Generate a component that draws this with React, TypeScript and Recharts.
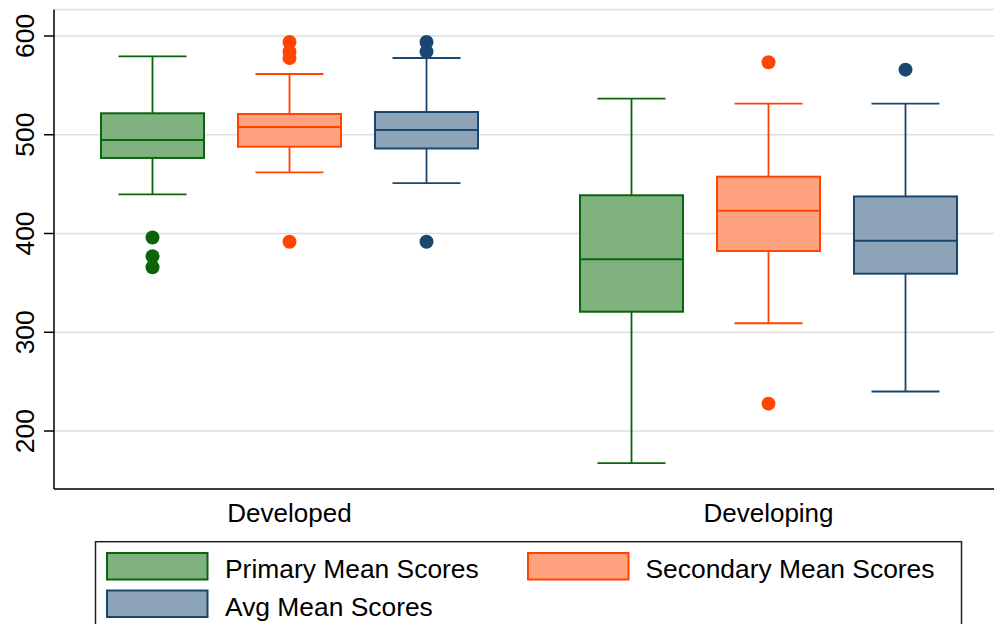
import React from 'react';
import { ComposedChart, Bar, XAxis, YAxis, CartesianGrid } from 'recharts';

// Categories
const groups = ['Developed', 'Developing'];

// Series
const seriesKeys = ['primary', 'secondary', 'avg'];
const seriesNames = ['Primary Mean Scores', 'Secondary Mean Scores', 'Avg Mean Scores'];
const strokeColors = ['#0a640a', '#ff4500', '#1a476f'];
const fillColors = ['#80b280', '#ffa280', '#8da3b7'];

// Box statistics, one value per category [Developed, Developing]
const primaryLow = [439.7, 167.6];
const primaryQ1 = [476.5, 320.8];
const primaryMedian = [494.7, 374.0];
const primaryQ3 = [521.7, 438.7];
const primaryHigh = [579.4, 536.5];
const primaryOutliers = [[396, 377, 365.8], []];

const secondaryLow = [461.9, 309.1];
const secondaryQ1 = [487.9, 382.3];
const secondaryMedian = [507.8, 423.1];
const secondaryQ3 = [521.0, 457.5];
const secondaryHigh = [561.5, 531.5];
const secondaryOutliers = [[593.9, 584.1, 577.7, 391.7], [573.4, 227.7]];

const avgLow = [451.0, 240.0];
const avgQ1 = [486.1, 359.3];
const avgMedian = [504.8, 392.7];
const avgQ3 = [523.0, 437.5];
const avgHigh = [577.7, 531.5];
const avgOutliers = [[593.9, 584.1, 391.7], [565.9]];

// Axis
const yTicks = [200, 300, 400, 500, 600];
const yDomain = [141.3, 626.8];

const stats = [
  { low: primaryLow, q1: primaryQ1, med: primaryMedian, q3: primaryQ3, high: primaryHigh, out: primaryOutliers },
  { low: secondaryLow, q1: secondaryQ1, med: secondaryMedian, q3: secondaryQ3, high: secondaryHigh, out: secondaryOutliers },
  { low: avgLow, q1: avgQ1, med: avgMedian, q3: avgQ3, high: avgHigh, out: avgOutliers },
];

const data = groups.map((g, gi) => {
  const row: any = { group: g };
  seriesKeys.forEach((k, si) => {
    const s = stats[si];
    row[k] = [s.q1[gi], s.q3[gi]];
    row[k + 'Stats'] = {
      low: s.low[gi],
      q1: s.q1[gi],
      med: s.med[gi],
      q3: s.q3[gi],
      high: s.high[gi],
      out: s.out[gi],
    };
  });
  return row;
});

const FONT = '"Liberation Sans", Arial, Helvetica, sans-serif';

const makeBoxShape = (si: number) => (props: any) => {
  const { x, y, width, height, payload } = props;
  const st = payload[seriesKeys[si] + 'Stats'];
  if (!st || height == null) return <g />;
  const ppu = height / (st.q3 - st.q1);
  const yOf = (v: number) => y + (st.q3 - v) * ppu;
  const cx = x + width / 2;
  const capW = width * 0.66;
  const stroke = strokeColors[si];
  const fill = fillColors[si];
  const yHigh = yOf(st.high);
  const yLow = yOf(st.low);
  const yMed = yOf(st.med);
  return (
    <g>
      <line x1={cx} x2={cx} y1={yHigh} y2={y} stroke={stroke} strokeWidth={1.8} />
      <line x1={cx} x2={cx} y1={y + height} y2={yLow} stroke={stroke} strokeWidth={1.8} />
      <line x1={cx - capW / 2} x2={cx + capW / 2} y1={yHigh} y2={yHigh} stroke={stroke} strokeWidth={1.8} />
      <line x1={cx - capW / 2} x2={cx + capW / 2} y1={yLow} y2={yLow} stroke={stroke} strokeWidth={1.8} />
      <rect x={x} y={y} width={width} height={height} fill={fill} stroke={stroke} strokeWidth={2} />
      <line x1={x} x2={x + width} y1={yMed} y2={yMed} stroke={stroke} strokeWidth={2} />
      {st.out.map((v: number, i: number) => (
        <circle key={i} cx={cx} cy={yOf(v)} r={7} fill={stroke} />
      ))}
    </g>
  );
};

const YTick = (props: any) => {
  const { x, y, payload } = props;
  const tx = x - 7.5;
  return (
    <text x={tx} y={y} transform={`rotate(-90, ${tx}, ${y})`} textAnchor="middle" fontSize={26.5} fontFamily={FONT} fill="#000">
      {payload.value}
    </text>
  );
};

const XTick = (props: any) => {
  const { x, y, payload } = props;
  return (
    <text x={x} y={y + 33} textAnchor="middle" fontSize={26} fontFamily={FONT} fill="#000">
      {payload.value}
    </text>
  );
};

const LegendBox = () => {
  const items = [
    { si: 0, sx: 107, sy: 553, tx: 225, ty: 578 },
    { si: 1, sx: 528, sy: 553, tx: 645.5, ty: 578 },
    { si: 2, sx: 107, sy: 590.5, tx: 225, ty: 615.5 },
  ];
  return (
    <svg width={994} height={624} style={{ position: 'absolute', left: 0, top: 0, pointerEvents: 'none' }}>
      <rect x={95.5} y={541.7} width={866} height={120} fill="#fff" stroke="#222" strokeWidth={1.5} />
      {items.map((it) => (
        <g key={it.si}>
          <rect x={it.sx} y={it.sy} width={100.5} height={26.5} fill={fillColors[it.si]} stroke={strokeColors[it.si]} strokeWidth={2} />
          <text x={it.tx} y={it.ty} fontSize={26.4} fontFamily={FONT} fill="#000">
            {seriesNames[it.si]}
          </text>
        </g>
      ))}
    </svg>
  );
};

export default function App() {
  return (
    <div
      style={{
        position: 'fixed',
        left: 0,
        top: 0,
        width: 994,
        height: 624,
        overflow: 'hidden',
        background: '#fff',
        fontFamily: FONT,
      }}
    >
      <ComposedChart
        width={1010}
        height={540}
        data={data}
        margin={{ top: 9.5, right: 2, left: 0, bottom: 0 }}
        barSize={103}
        barGap={34}
      >
        <CartesianGrid horizontal vertical={false} stroke="#dedede" strokeWidth={1.6} />
        <XAxis
          dataKey="group"
          height={51}
          tickLine={false}
          tickSize={0}
          tickMargin={0}
          axisLine={{ stroke: '#000', strokeWidth: 1.5 }}
          tick={<XTick />}
          padding={{ left: -4, right: 0 }}
          interval={0}
        />
        <XAxis
          xAxisId="top"
          dataKey="group"
          orientation="top"
          height={0}
          tick={false}
          tickLine={false}
          axisLine={{ stroke: '#000', strokeWidth: 1.5 }}
        />
        <YAxis
          width={54}
          domain={yDomain}
          ticks={yTicks}
          allowDataOverflow
          type="number"
          tickSize={10}
          tickMargin={2}
          tickLine={{ stroke: '#000', strokeWidth: 1.5 }}
          axisLine={{ stroke: '#000', strokeWidth: 1.5 }}
          tick={<YTick />}
        />
        {seriesKeys.map((k, si) => (
          <Bar
            key={k}
            dataKey={k}
            name={seriesNames[si]}
            fill={fillColors[si]}
            stroke={strokeColors[si]}
            isAnimationActive={false}
            shape={makeBoxShape(si)}
          />
        ))}
      </ComposedChart>
      <LegendBox />
    </div>
  );
}
